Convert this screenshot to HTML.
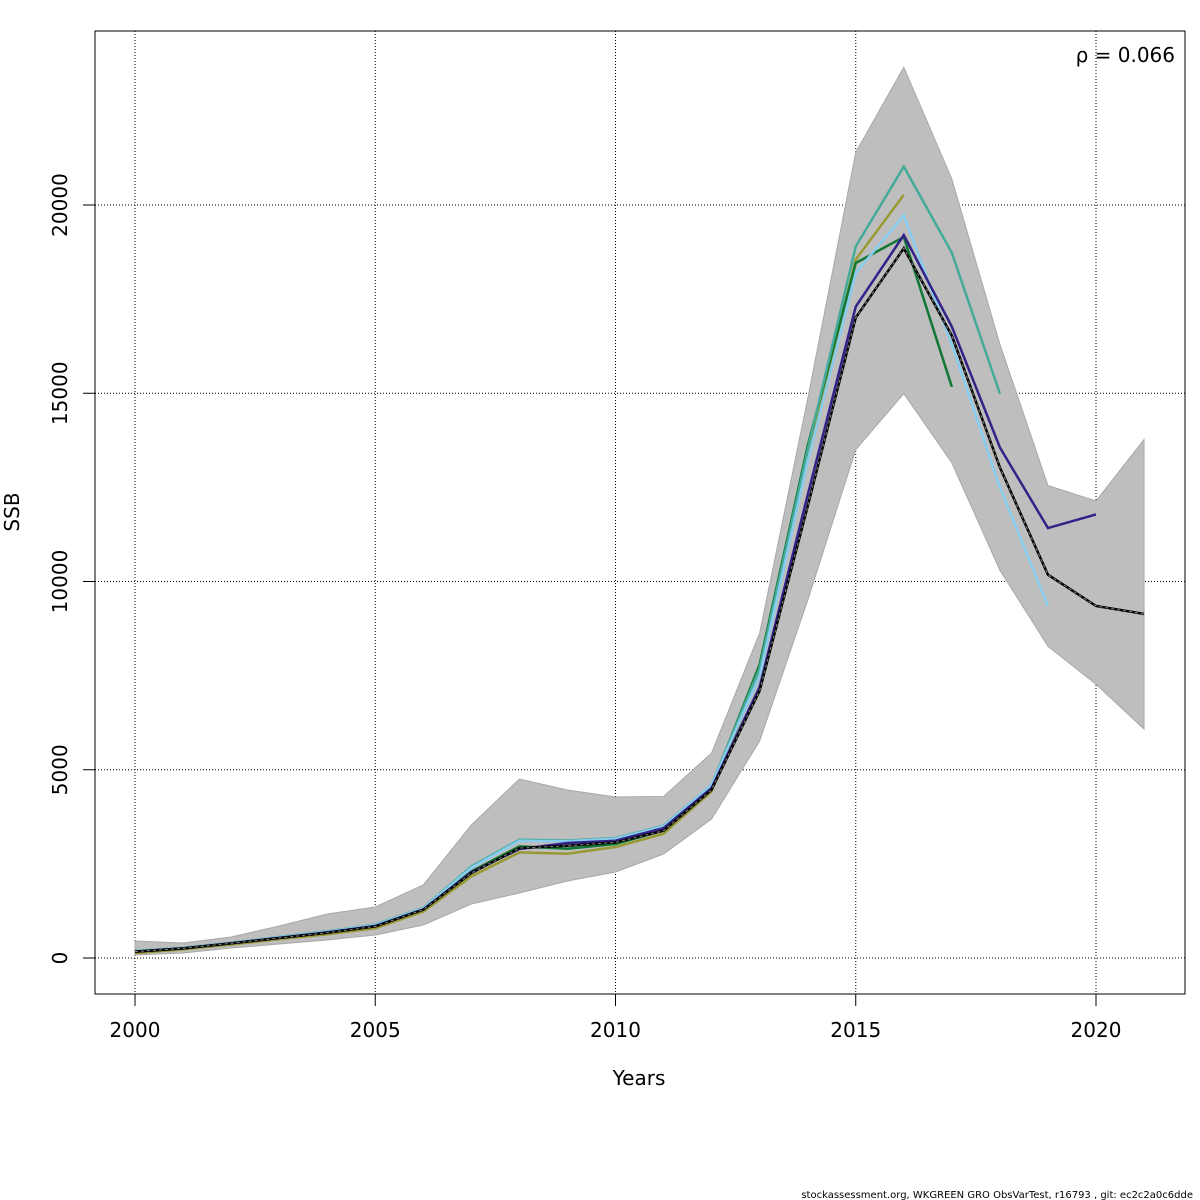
<!DOCTYPE html>
<html><head><meta charset="utf-8"><style>
html,body{margin:0;padding:0;background:#fff;}
svg{display:block;font-family:"DejaVu Sans","Liberation Sans",sans-serif;}
</style></head><body>
<svg id="chart" width="1200" height="1200" viewBox="0 0 1200 1200" xmlns="http://www.w3.org/2000/svg">
<g id="grid"></g>
<g id="band"></g>
<g id="lines"></g>
<rect x="95" y="31" width="1090" height="963" fill="none" stroke="#000" stroke-width="1"/>
<g id="axes"></g>
<text x="1175" y="62" text-anchor="end" font-size="20">ρ = 0.066</text>
<text x="639" y="1085" text-anchor="middle" font-size="20">Years</text>
<text transform="translate(19,512) rotate(-90)" text-anchor="middle" font-size="20">SSB</text>
<text x="1193" y="1198" text-anchor="end" font-size="10">stockassessment.org, WKGREEN GRO ObsVarTest, r16793 , git: ec2c2a0c6dde</text>
</svg>
<script>
const years=[2000,2001,2002,2003,2004,2005,2006,2007,2008,2009,2010,2011,2012,2013,2014,2015,2016,2017,2018,2019,2020,2021];
const bandUpper=[452,398,558,850,1169,1355,1940,3533,4754,4462,4276,4290,5445,8632,14850,21400,23660,20690,16300,12550,12140,13770];
const bandLower=[80,133,266,372,478,611,876,1434,1726,2045,2284,2762,3692,5764,9500,13500,14990,13150,10300,8280,7270,6080];
const sBlack=[170,257,390,530,670,840,1283,2257,2920,2980,3070,3380,4470,7100,12000,17010,18850,16530,13030,10180,9350,9140];
const sNavy=[170,257,390,535,680,850,1290,2280,2894,3053,3115,3450,4513,7200,12300,17300,19200,16770,13560,11420,11780];
const sLightBlue=[180,265,400,555,700,880,1320,2400,3115,3100,3170,3500,4600,7500,13200,18200,19720,16300,12500,9350];
const sTeal=[190,270,405,560,710,890,1330,2434,3140,3120,3186,3513,4600,7700,13500,18900,21020,18730,14990];
const sGreen=[170,257,390,535,680,850,1290,2300,2965,2903,3027,3390,4558,7800,13600,18460,19150,15170];
const sOlive=[130,230,360,500,630,790,1230,2168,2805,2770,2947,3300,4425,7600,13300,18550,20270];
const xTicks=[2000,2005,2010,2015,2020];
const yTicks=[0,5000,10000,15000,20000];
const yTickLabels=["0","5000","10000","15000","20000"];

const X=v=>135+(v-2000)*48.05;
const Y=v=>958-v*0.037650;
const NS="http://www.w3.org/2000/svg";
function mk(tag,parent,attrs){const e=document.createElementNS(NS,tag);for(const k in attrs)e.setAttribute(k,attrs[k]);parent.appendChild(e);return e;}
const grid=document.getElementById('grid'),band=document.getElementById('band'),lines=document.getElementById('lines'),axes=document.getElementById('axes');

xTicks.forEach(t=>{
  const l=mk('line',grid,{x1:X(t),x2:X(t),y1:31,y2:994,stroke:'#000','stroke-width':1,'stroke-dasharray':'1,2'});
  
  
  const tk=mk('line',axes,{x1:X(t),x2:X(t),y1:994,y2:1006,stroke:'#000'});
  
  
  const tx=mk('text',axes,{x:X(t),y:1037,'text-anchor':'middle','font-size':20});
  tx.textContent=t;
  
  
});
yTicks.forEach((t,i)=>{
  const l=mk('line',grid,{x1:95,x2:1185,y1:Y(t),y2:Y(t),stroke:'#000','stroke-width':1,'stroke-dasharray':'1,2'});
  
  
  const tk=mk('line',axes,{x1:83,x2:95,y1:Y(t),y2:Y(t),stroke:'#000'});
  
  
  const tx=mk('text',axes,{transform:`translate(67,${Y(t)}) rotate(-90)`,'text-anchor':'middle','font-size':20});
  tx.textContent=yTickLabels[i];
  
  
});

let pts=years.map((y,i)=>X(y)+','+Y(bandUpper[i]));
for(let i=years.length-1;i>=0;i--)pts.push(X(years[i])+','+Y(bandLower[i]));
const poly=mk('polygon',band,{points:pts.join(' '),fill:'#bebebe',stroke:'#a8a8a8','stroke-width':1});



function series(vals,color,name){
  const p=mk('polyline',lines,{points:vals.map((v,i)=>X(years[i])+','+Y(v)).join(' '),fill:'none',stroke:color,'stroke-width':2.5});
  
  
  return p;
}
series(sOlive,'#999933','series-olive');
series(sGreen,'#117733','series-green');
series(sTeal,'#44aa99','series-teal');
series(sLightBlue,'#88ccee','series-lightblue');
series(sNavy,'#332288','series-navy');
series(sBlack,'#000000','series-black');
const d=series(sBlack,'#888888','series-black-dash');
d.setAttribute('stroke-width','1');
d.setAttribute('stroke-dasharray','3,3');
</script>
</body></html>
